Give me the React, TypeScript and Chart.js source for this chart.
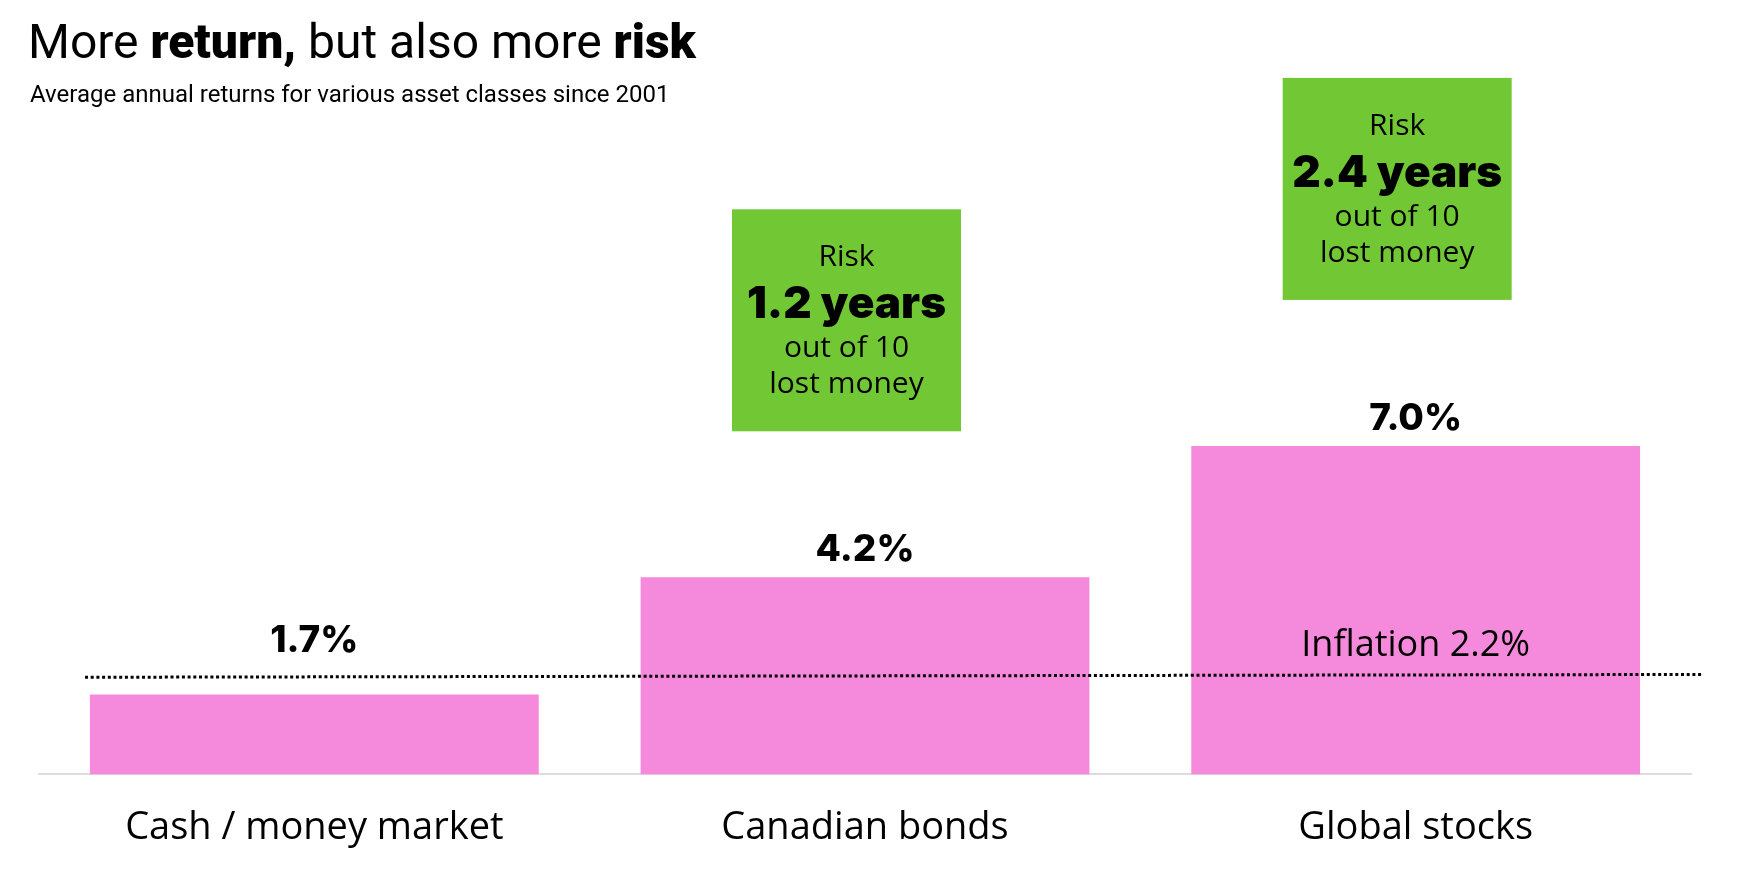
import React, { useEffect, useRef } from "react";
import { Chart, registerables } from "chart.js";

Chart.register(...registerables);

// ---- data ----
const categories = ["Cash / money market", "Canadian bonds", "Global stocks"];
const returns = [1.7, 4.2, 7.0];
const returnLabels = ["1.7%", "4.2%", "7.0%"];
const riskYears: (number | null)[] = [null, 1.2, 2.4];
const inflationRate = 2.2;
const inflationLineEnds = [2.07, 2.13];
const yMin = 0;
const yMax = 15;

const titleParts: [string, boolean][] = [
  ["More ", false],
  ["return,", true],
  [" but also more ", false],
  ["risk", true],
];
const subtitle = "Average annual returns for various asset classes since 2001";

// ---- styles ----
const PINK = "#F589DB";
const GREEN = "#72C834";
const TITLE_FONT = "Roboto";
const BODY_FONT = "'Open Sans'";
const BOLD_FONT = "Inter";

const overlay = {
  id: "overlay",
  afterDraw(chart: any) {
    const { ctx, chartArea } = chart;
    const y = chart.scales.y;
    const x = chart.scales.x;
    const meta = chart.getDatasetMeta(0);
    ctx.save();
    ctx.fillStyle = "#000";
    ctx.textBaseline = "alphabetic";

    // title
    ctx.textAlign = "left";
    let tx = 28;
    for (const [t, bold] of titleParts) {
      ctx.font = `${bold ? 900 : 400} 48px ${TITLE_FONT}`;
      ctx.fillText(t, tx, 58);
      tx += ctx.measureText(t).width;
    }
    ctx.font = `400 24px ${TITLE_FONT}`;
    ctx.fillText(subtitle, 30, 102);

    // inflation line
    const lx0 = chartArea.left + 46;
    const lx1 = chartArea.right + 12;
    const ly0 = y.getPixelForValue(inflationLineEnds[0]);
    const ly1 = y.getPixelForValue(inflationLineEnds[1]);
    const lineYAt = (px: number) => ly0 + ((px - lx0) / (lx1 - lx0)) * (ly1 - ly0);
    ctx.save();
    ctx.setLineDash([3, 2.7]);
    ctx.lineWidth = 3;
    ctx.strokeStyle = "#000";
    ctx.beginPath();
    ctx.moveTo(lx0, ly0);
    ctx.lineTo(lx1, ly1);
    ctx.stroke();
    ctx.restore();

    // inflation label over last bar
    const lastIdx = categories.length - 1;
    const ix = x.getPixelForValue(lastIdx);
    ctx.textAlign = "center";
    ctx.font = `400 36px ${BODY_FONT}`;
    ctx.fillText(`Inflation ${inflationRate.toFixed(1)}%`, ix, lineYAt(ix) - 19);

    // value labels + risk boxes
    meta.data.forEach((bar: any, i: number) => {
      const bx = bar.x;
      const top = bar.y;
      let base = top - 16;
      const ly = lineYAt(bx);
      if (base > ly - 25) base = ly - 25;
      ctx.textAlign = "center";
      ctx.fillStyle = "#000";
      ctx.font = `800 37px ${BOLD_FONT}`;
      ctx.fillText(returnLabels[i], bx, base);

      const r = riskYears[i];
      if (r != null) {
        const w = 229;
        const h = 222;
        const cx = bx - 18.5;
        const bottom = top - 146;
        const btop = bottom - h;
        ctx.fillStyle = GREEN;
        ctx.fillRect(cx - w / 2, btop, w, h);
        ctx.fillStyle = "#000";
        ctx.font = `400 30px ${BODY_FONT}`;
        ctx.fillText("Risk", cx, btop + 57);
        ctx.font = `900 44px ${BOLD_FONT}`;
        ctx.fillText(`${r.toFixed(1)} years`, cx, btop + 109);
        ctx.font = `400 30px ${BODY_FONT}`;
        ctx.fillText("out of 10", cx, btop + 148);
        ctx.fillText("lost money", cx, btop + 184);
      }
    });
    ctx.restore();
  },
};

export default function App() {
  const ref = useRef<HTMLCanvasElement | null>(null);
  useEffect(() => {
    if (!ref.current) return;
    const chart = new Chart(ref.current, {
      type: "bar",
      data: {
        labels: categories,
        datasets: [
          {
            data: returns,
            backgroundColor: PINK,
            borderWidth: 0,
            barPercentage: 0.815,
            categoryPercentage: 1,
          },
        ],
      },
      options: {
        responsive: false,
        animation: false,
        devicePixelRatio: 1,
        layout: { padding: { left: 39, right: 46, top: 70.5, bottom: 6 } },
        plugins: {
          legend: { display: false },
          tooltip: { enabled: false },
          title: { display: false },
        },
        scales: {
          x: {
            grid: { display: false, drawTicks: false },
            border: { display: true, color: "#dddddd", width: 2 },
            ticks: {
              color: "#000",
              padding: 31,
              font: { family: "Open Sans", size: 38, weight: 400 },
            },
          },
          y: { display: false, min: yMin, max: yMax },
        },
      },
      plugins: [overlay],
    });
    return () => chart.destroy();
  }, []);
  return (
    <div style={{ position: "absolute", left: 0, top: 0, width: 1737, height: 888 }}>
      <canvas ref={ref} width={1737} height={888} />
    </div>
  );
}
